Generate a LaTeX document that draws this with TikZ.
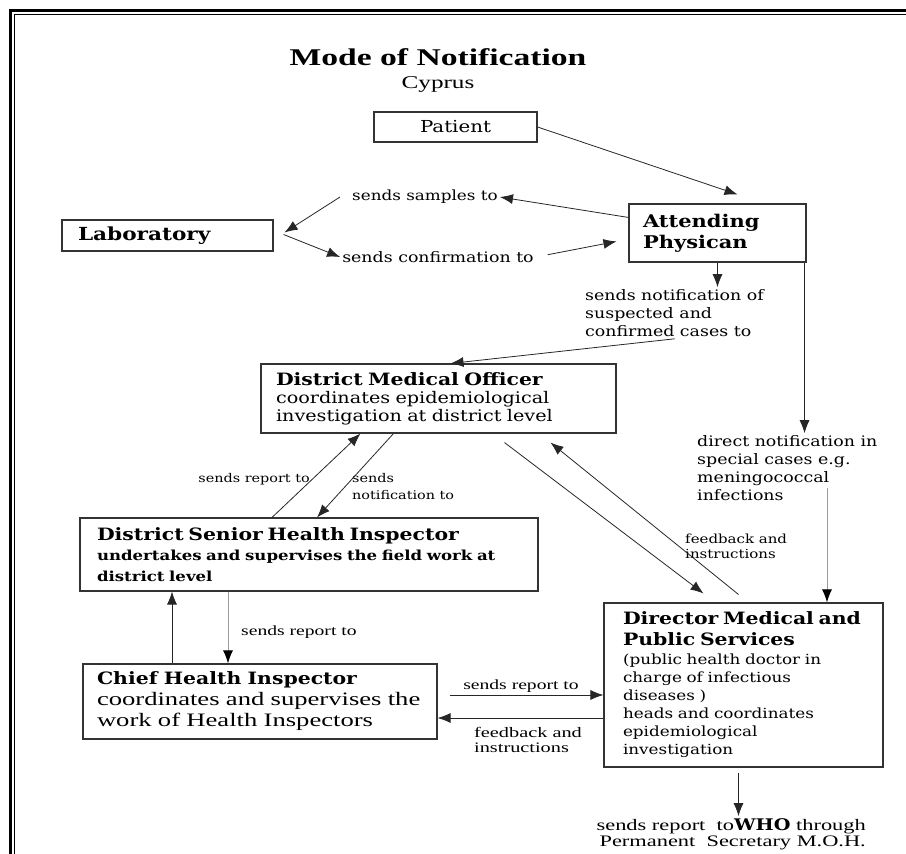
\documentclass[tikz,border=0pt]{standalone}
\usepackage{fontspec}
\setmainfont{DejaVu Serif}[FakeStretch=1.2]
\newfontfamily\tms{Liberation Serif}[FakeStretch=1.4]
\usetikzlibrary{arrows.meta}

\begin{document}
\begin{tikzpicture}[x=1pt,y=-1pt,>={Latex[length=13pt,width=10pt]}]
  \tikzstyle{box}=[draw=black!80,line width=1.1pt,inner ysep=3pt]
  \tikzstyle{lbl}=[inner sep=2pt,align=left]
  \tikzstyle{con}=[->,line width=0.8pt,draw=black!85]
  \tikzstyle{gcon}=[-{Latex[length=13pt,width=10pt,black]},line width=1pt,draw=black!40]

  \useasboundingbox (0,0) rectangle (906,854);
  % double frame
  \draw[line width=3pt] (10,860) -- (10,10) -- (912,10);
  \draw[line width=1.2pt] (14.5,860) -- (14.5,14.5) -- (912,14.5);

  \node[font=\tms\bfseries\fontsize{24}{28}\selectfont] (title) at (438,57) {Mode of Notification};
  \node[font=\tms\fontsize{18}{21}\selectfont] (cyp) at (438,84) {Cyprus};

  % boxes
  \node[box,minimum width=163pt,minimum height=30pt,font=\fontsize{16.5}{19}\selectfont] (pat) at (455.5,127) {Patient};
  \node[box,text width=149pt,inner xsep=14pt,minimum height=58pt,align=left,
        font=\bfseries\fontsize{17.5}{21}\selectfont] (att) at (717.5,233) {Attending\\Physican};
  \node[box,text width=179pt,inner xsep=16pt,minimum height=31pt,align=left,
        font=\bfseries\fontsize{18}{21}\selectfont] (lab) at (167.5,235.5) {Laboratory};
  \node[box,text width=325pt,inner xsep=15pt,minimum height=69pt,align=left,
        font=\fontsize{16}{18}\selectfont] (dmo) at (438.5,398.5)
        {{\bfseries\fontsize{17}{18}\selectfont District Medical Officer}\\coordinates epidemiological\\investigation at district level};
  \node[box,text width=424pt,inner xsep=17pt,minimum height=73pt,align=left,
        font=\bfseries\fontsize{13.8}{20.5}\selectfont] (dsh) at (309,554.5)
        {{\fontsize{17}{20.5}\selectfont District Senior Health Inspector}\\undertakes and supervises the field work at\\district level};
  \node[box,text width=326pt,inner xsep=14pt,minimum height=75pt,align=left,
        font=\tms\fontsize{19}{21}\selectfont] (chi) at (260,701.5)
        {{\rmfamily\bfseries\fontsize{17}{21}\selectfont Chief Health Inspector}\\\mbox{coordinates and supervises the}\\work of Health Inspectors};
  \node[box,text width=241pt,inner xsep=19pt,minimum height=164pt,align=left,
        font=\fontsize{14}{18}\selectfont] (dir) at (743.5,685)
        {{\bfseries\fontsize{17}{21}\selectfont\mbox{Director Medical and}}\\[3pt]{\bfseries\fontsize{17}{21}\selectfont Public Services}\\[1pt](public health doctor in\\charge of infectious\\diseases )\\heads and coordinates\\epidemiological\\investigation};

  % labels
  \node[lbl,font=\fontsize{14}{18}\selectfont] (samp) at (425,197) {sends samples\ to};
  \node[lbl,font=\fontsize{14.5}{18}\selectfont] (conf) at (438,257) {sends confirmation\ to};
  \node[lbl,font=\fontsize{14.5}{18}\selectfont,anchor=west] (notif) at (583,313) {sends notification of\\suspected and\\confirmed cases\ to};
  \node[lbl,font=\fontsize{14.5}{18}\selectfont,anchor=west] (direct) at (695,468) {direct notification\ in\\special cases\ e.g.\\meningococcal\\infections};
  \node[lbl,font=\fontsize{12.5}{15}\selectfont,anchor=west] (fb1) at (683,546) {feedback and\\instructions};
  \node[lbl,font=\fontsize{12}{17}\selectfont,anchor=east] (rep1) at (312,479) {sends report to};
  \node[lbl,font=\fontsize{12}{17}\selectfont,anchor=west] (ntf2) at (350,487) {sends\\notification to};
  \node[lbl,font=\tms\fontsize{14}{16}\selectfont,anchor=west] (rep2) at (239,632) {sends report to};
  \node[lbl,font=\tms\fontsize{14}{16}\selectfont] (rep3) at (521,686) {sends report to};
  \node[lbl,font=\tms\fontsize{14.5}{15}\selectfont,anchor=west] (fb2) at (472,740) {feedback and\\instructions};
  \node[lbl,align=right,font=\tms\fontsize{16}{16}\selectfont,anchor=east] (who) at (868,834)
        {sends report\ \ to{\rmfamily\bfseries WHO} through\\Permanent\ \ Secretary M.O.H.};

  \coordinate (dirin) at (827,488);
  \coordinate (attR) at ([xshift=-2pt]att.south east);
  \coordinate (dshL) at ([xshift=-81pt]dsh.south);
  \coordinate (chiL) at ([xshift=-88pt]chi.north);
  \coordinate (d1) at ([yshift=-10pt]dir.west);
  \coordinate (d2) at ([yshift=-33pt]dir.west);
  \coordinate (dirB) at ([xshift=-5pt]dir.south);

  % connectors
  \draw[con] (pat.east) -- ([xshift=20pt,yshift=9pt]att.north);
  \draw[con] ([yshift=-14pt]att.north west) -- (samp.east);
  \draw[con] ([xshift=-10pt]samp.west) -- ([xshift=11pt,yshift=-13pt]lab.north east);
  \draw[con] ([xshift=10pt,yshift=1pt]lab.east) -- (conf.west);
  \draw[con,shorten <=12pt] (conf.east) -- ([xshift=-12pt,yshift=-38pt]att.north west);
  \draw[con] (att.south) -- (att.south |- notif.north);
  \draw[con] (notif.south) -- ([xshift=12pt]dmo.north);
  \draw[con] (attR) -- (attR |- direct.north);
  \draw[gcon] (dirin) -- (dirin |- dir.north);
  \draw[con] ([xshift=-45pt]dmo.south) -- ([xshift=8pt]dsh.north);
  \draw[con] ([xshift=-37pt]dsh.north) -- ([xshift=-78pt]dmo.south);
  \draw[con] ([xshift=66pt,yshift=-9pt]dmo.south) -- ([xshift=-40pt,yshift=9pt]dir.north);
  \draw[con] ([xshift=-5pt,yshift=8pt]dir.north) -- ([xshift=112pt,yshift=-9pt]dmo.south);
  \draw[gcon] (dshL) -- (dshL |- chi.north);
  \draw[con] (chiL) -- (chiL |- dsh.south);
  \draw[con,shorten <=12pt] (chi.east |- d1) -- (d1);
  \draw[con] (d2) -- (d2 -| chi.east);
  \draw[con,shorten <=5pt] (dirB) -- (dirB |- who.north);
\end{tikzpicture}
\end{document}
